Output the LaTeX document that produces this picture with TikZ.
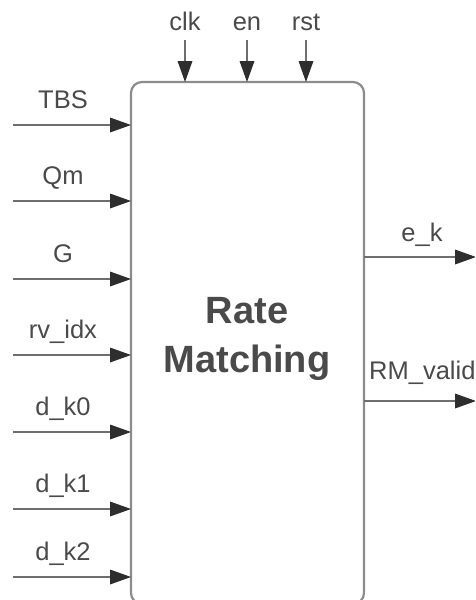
\documentclass[tikz,border=0pt]{standalone}
\usepackage{fontspec}
\setmainfont{Liberation Sans}
\usetikzlibrary{arrows.meta}
\definecolor{linegray}{HTML}{6E6E6E}
\definecolor{boxgray}{HTML}{8C8C8C}
\definecolor{tipgray}{HTML}{2E2E2E}
\definecolor{textgray}{HTML}{4A4A4A}
\begin{document}
\begin{tikzpicture}[x=1pt,y=-1pt,
  sig/.style={draw=linegray,line width=1.8pt,
    -{Triangle[length=21pt,width=15pt,color=tipgray,fill=tipgray,line width=0pt]}},
  lbl/.style={font=\fontsize{25.5}{30}\selectfont,text=textgray,inner sep=0pt},
  blk/.style={draw=boxgray,line width=2.2pt,rounded corners=11pt,fill=white}]
\useasboundingbox (0,0) rectangle (475,600);
\clip (0,0) rectangle (475,600);
\draw[blk] (131,82) rectangle (364,604);
\coordinate (bw) at (131,0);
\coordinate (be) at (364,0);
\coordinate (bn) at (0,82);
\node[font=\bfseries\fontsize{38}{49}\selectfont,text=textgray,align=center,inner sep=0pt] (title) at (247,339) {Rate\\Matching};
% inputs
\foreach \n/\y/\t in {tbs/125/TBS,qm/201/Qm,g/279/G,rv/355/rv\_idx,dk0/432/d\_k0,dk1/509/d\_k1,dk2/577/d\_k2}{
  \coordinate (\n s) at (13,\y);
  \coordinate (\n e) at (bw |- \n s);
  \draw[sig] (\n s) -- (\n e);
  \node[lbl,anchor=base] (\n l) at (63,\y-17) {\t};
}
% top
\foreach \n/\x/\t in {clk/185/clk,en/247/en,rst/306/rst}{
  \coordinate (\n s) at (\x,40);
  \coordinate (\n e) at (\n s |- bn);
  \draw[sig] (\n s) -- (\n e);
  \node[lbl,anchor=base] (\n l) at (\x,30) {\t};
}
% outputs
\coordinate (eks) at (be |- 0,257);
\coordinate (eke) at (476,257);
\draw[sig] (eks) -- (eke);
\node[lbl,anchor=base] (ekl) at (422,241) {e\_k};
\coordinate (rvs) at (be |- 0,401);
\coordinate (rve) at (476,401);
\draw[sig] (rvs) -- (rve);
\node[lbl,anchor=base west] (rvl) at (369,379) {RM\_valid};
\end{tikzpicture}
\end{document}
